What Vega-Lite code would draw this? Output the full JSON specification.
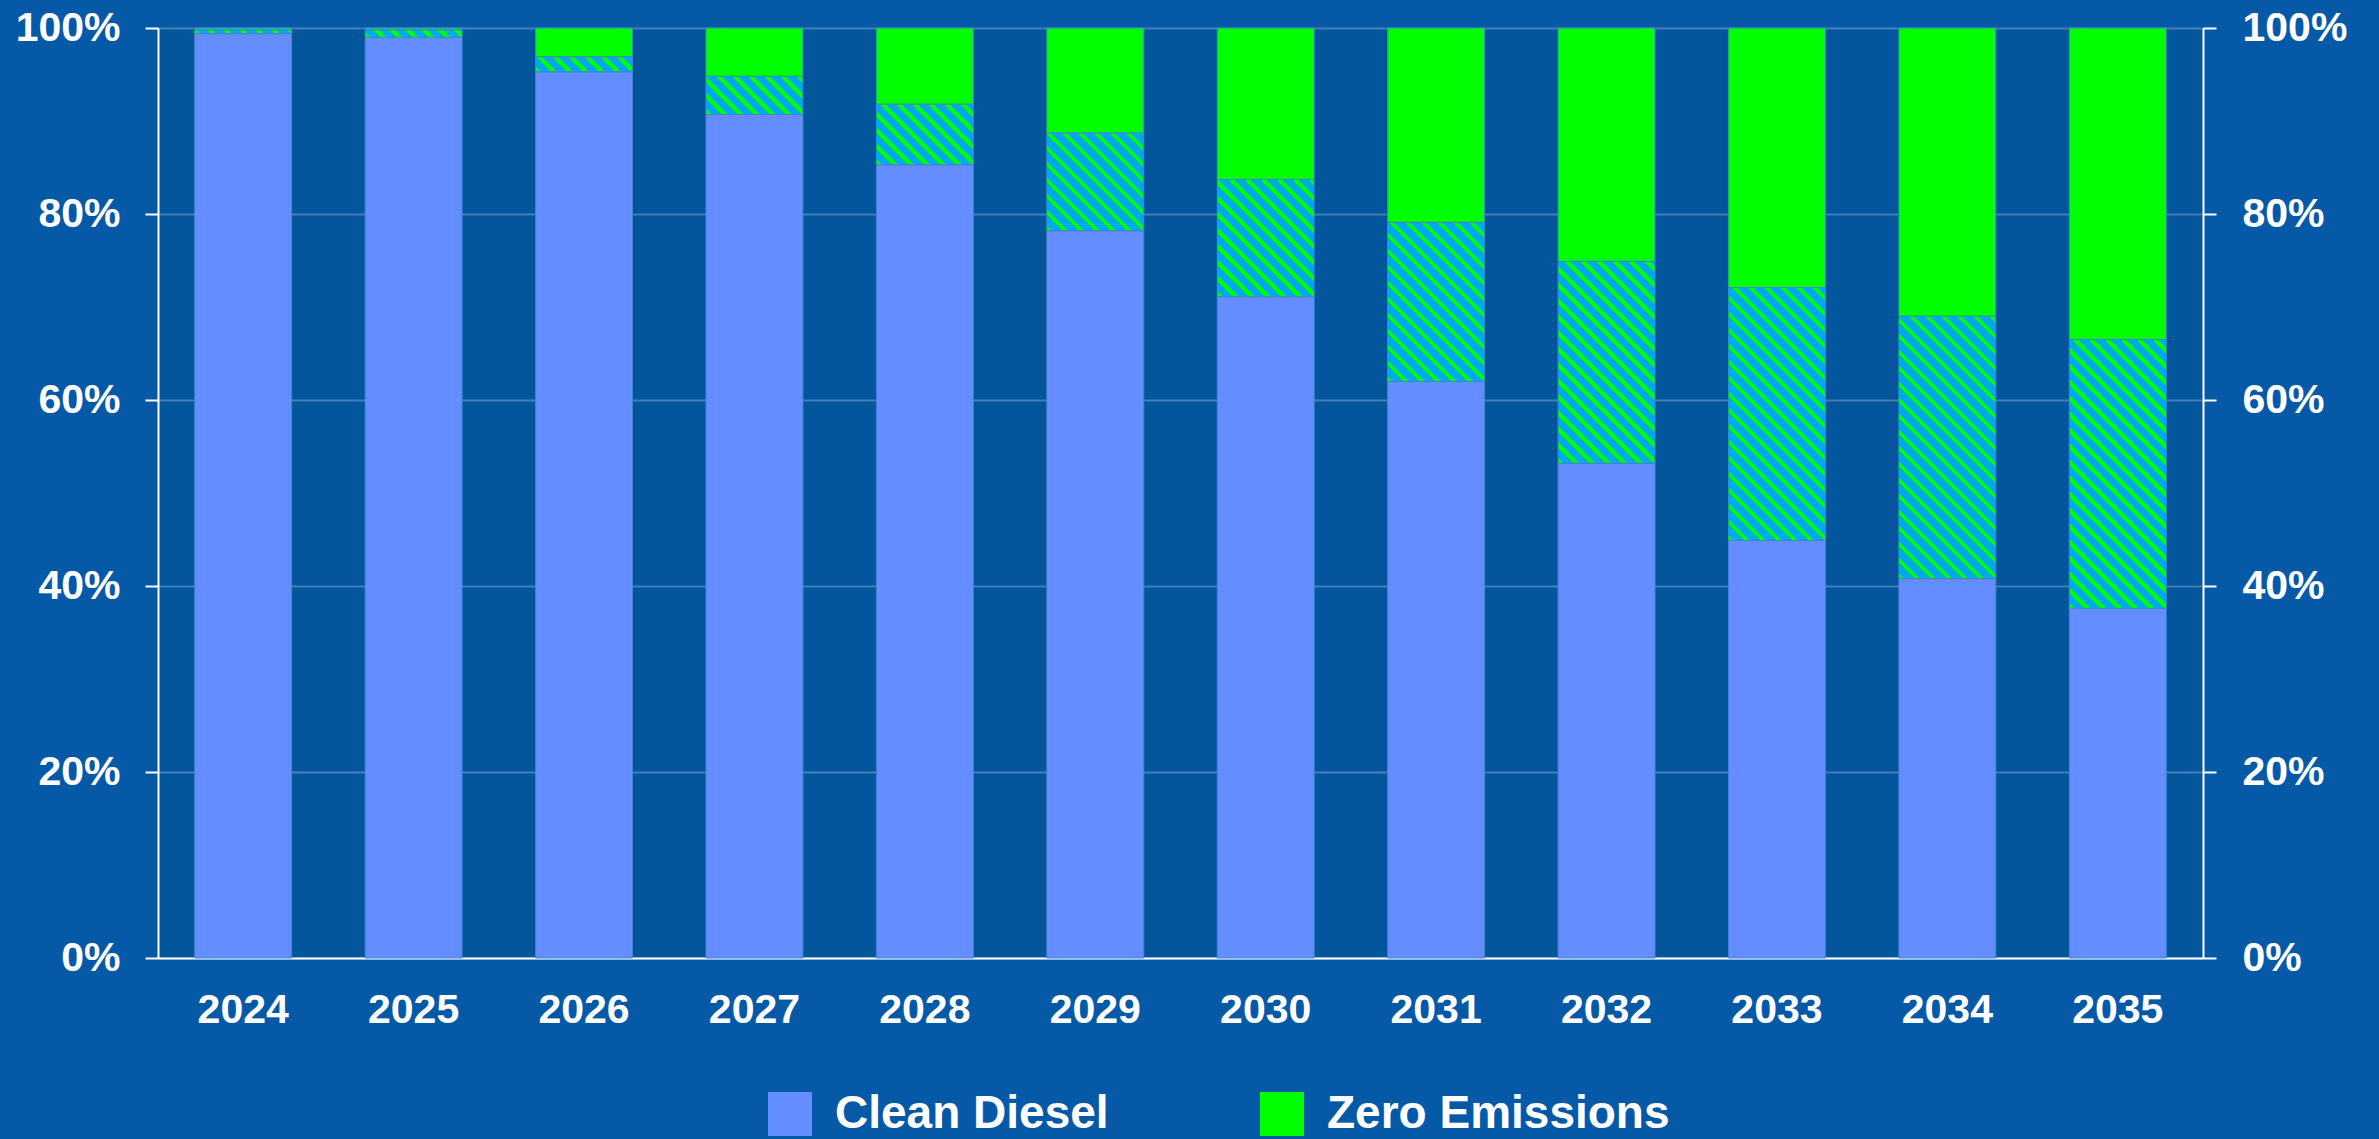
{
  "$schema": "https://vega.github.io/schema/vega-lite/v6.json",
  "width": 2045,
  "height": 930,
  "autosize": "none",
  "padding": {"left": 158, "top": 28, "right": 176, "bottom": 181},
  "background": "#0659a6",
  "config": {
    "view": {"fill": "#03559c", "stroke": null},
    "font": "Liberation Sans"
  },
  "params": [
    {"name": "hatchStops", "value": [
      {"offset": 0, "color": "#00ff00"}, {"offset": 0.014, "color": "#00ff00"}, {"offset": 0.014, "color": "#00a9ee"}, {"offset": 0.04, "color": "#00a9ee"},
      {"offset": 0.04, "color": "#00ff00"}, {"offset": 0.054, "color": "#00ff00"}, {"offset": 0.054, "color": "#00a9ee"}, {"offset": 0.08, "color": "#00a9ee"},
      {"offset": 0.08, "color": "#00ff00"}, {"offset": 0.094, "color": "#00ff00"}, {"offset": 0.094, "color": "#00a9ee"}, {"offset": 0.12, "color": "#00a9ee"},
      {"offset": 0.12, "color": "#00ff00"}, {"offset": 0.134, "color": "#00ff00"}, {"offset": 0.134, "color": "#00a9ee"}, {"offset": 0.16, "color": "#00a9ee"},
      {"offset": 0.16, "color": "#00ff00"}, {"offset": 0.174, "color": "#00ff00"}, {"offset": 0.174, "color": "#00a9ee"}, {"offset": 0.2, "color": "#00a9ee"},
      {"offset": 0.2, "color": "#00ff00"}, {"offset": 0.214, "color": "#00ff00"}, {"offset": 0.214, "color": "#00a9ee"}, {"offset": 0.24, "color": "#00a9ee"},
      {"offset": 0.24, "color": "#00ff00"}, {"offset": 0.254, "color": "#00ff00"}, {"offset": 0.254, "color": "#00a9ee"}, {"offset": 0.28, "color": "#00a9ee"},
      {"offset": 0.28, "color": "#00ff00"}, {"offset": 0.294, "color": "#00ff00"}, {"offset": 0.294, "color": "#00a9ee"}, {"offset": 0.32, "color": "#00a9ee"},
      {"offset": 0.32, "color": "#00ff00"}, {"offset": 0.334, "color": "#00ff00"}, {"offset": 0.334, "color": "#00a9ee"}, {"offset": 0.36, "color": "#00a9ee"},
      {"offset": 0.36, "color": "#00ff00"}, {"offset": 0.374, "color": "#00ff00"}, {"offset": 0.374, "color": "#00a9ee"}, {"offset": 0.4, "color": "#00a9ee"},
      {"offset": 0.4, "color": "#00ff00"}, {"offset": 0.414, "color": "#00ff00"}, {"offset": 0.414, "color": "#00a9ee"}, {"offset": 0.44, "color": "#00a9ee"},
      {"offset": 0.44, "color": "#00ff00"}, {"offset": 0.454, "color": "#00ff00"}, {"offset": 0.454, "color": "#00a9ee"}, {"offset": 0.48, "color": "#00a9ee"},
      {"offset": 0.48, "color": "#00ff00"}, {"offset": 0.494, "color": "#00ff00"}, {"offset": 0.494, "color": "#00a9ee"}, {"offset": 0.52, "color": "#00a9ee"},
      {"offset": 0.52, "color": "#00ff00"}, {"offset": 0.534, "color": "#00ff00"}, {"offset": 0.534, "color": "#00a9ee"}, {"offset": 0.56, "color": "#00a9ee"},
      {"offset": 0.56, "color": "#00ff00"}, {"offset": 0.574, "color": "#00ff00"}, {"offset": 0.574, "color": "#00a9ee"}, {"offset": 0.6, "color": "#00a9ee"},
      {"offset": 0.6, "color": "#00ff00"}, {"offset": 0.614, "color": "#00ff00"}, {"offset": 0.614, "color": "#00a9ee"}, {"offset": 0.64, "color": "#00a9ee"},
      {"offset": 0.64, "color": "#00ff00"}, {"offset": 0.654, "color": "#00ff00"}, {"offset": 0.654, "color": "#00a9ee"}, {"offset": 0.68, "color": "#00a9ee"},
      {"offset": 0.68, "color": "#00ff00"}, {"offset": 0.694, "color": "#00ff00"}, {"offset": 0.694, "color": "#00a9ee"}, {"offset": 0.72, "color": "#00a9ee"},
      {"offset": 0.72, "color": "#00ff00"}, {"offset": 0.734, "color": "#00ff00"}, {"offset": 0.734, "color": "#00a9ee"}, {"offset": 0.76, "color": "#00a9ee"},
      {"offset": 0.76, "color": "#00ff00"}, {"offset": 0.774, "color": "#00ff00"}, {"offset": 0.774, "color": "#00a9ee"}, {"offset": 0.8, "color": "#00a9ee"},
      {"offset": 0.8, "color": "#00ff00"}, {"offset": 0.814, "color": "#00ff00"}, {"offset": 0.814, "color": "#00a9ee"}, {"offset": 0.84, "color": "#00a9ee"},
      {"offset": 0.84, "color": "#00ff00"}, {"offset": 0.854, "color": "#00ff00"}, {"offset": 0.854, "color": "#00a9ee"}, {"offset": 0.88, "color": "#00a9ee"},
      {"offset": 0.88, "color": "#00ff00"}, {"offset": 0.894, "color": "#00ff00"}, {"offset": 0.894, "color": "#00a9ee"}, {"offset": 0.92, "color": "#00a9ee"},
      {"offset": 0.92, "color": "#00ff00"}, {"offset": 0.934, "color": "#00ff00"}, {"offset": 0.934, "color": "#00a9ee"}, {"offset": 0.96, "color": "#00a9ee"},
      {"offset": 0.96, "color": "#00ff00"}, {"offset": 0.974, "color": "#00ff00"}, {"offset": 0.974, "color": "#00a9ee"}, {"offset": 1, "color": "#00a9ee"}
    ]}
  ],
  "data": {"values": [
    {"year": "2024", "cat": "Clean Diesel", "share": 99.4}, {"year": "2024", "cat": "Mixed", "share": 0.4}, {"year": "2024", "cat": "Zero Emissions", "share": 0.2},
    {"year": "2025", "cat": "Clean Diesel", "share": 99.0}, {"year": "2025", "cat": "Mixed", "share": 0.8}, {"year": "2025", "cat": "Zero Emissions", "share": 0.2},
    {"year": "2026", "cat": "Clean Diesel", "share": 95.3}, {"year": "2026", "cat": "Mixed", "share": 1.6}, {"year": "2026", "cat": "Zero Emissions", "share": 3.1},
    {"year": "2027", "cat": "Clean Diesel", "share": 90.7}, {"year": "2027", "cat": "Mixed", "share": 4.1}, {"year": "2027", "cat": "Zero Emissions", "share": 5.2},
    {"year": "2028", "cat": "Clean Diesel", "share": 85.3}, {"year": "2028", "cat": "Mixed", "share": 6.5}, {"year": "2028", "cat": "Zero Emissions", "share": 8.2},
    {"year": "2029", "cat": "Clean Diesel", "share": 78.2}, {"year": "2029", "cat": "Mixed", "share": 10.5}, {"year": "2029", "cat": "Zero Emissions", "share": 11.3},
    {"year": "2030", "cat": "Clean Diesel", "share": 71.1}, {"year": "2030", "cat": "Mixed", "share": 12.6}, {"year": "2030", "cat": "Zero Emissions", "share": 16.3},
    {"year": "2031", "cat": "Clean Diesel", "share": 62.0}, {"year": "2031", "cat": "Mixed", "share": 17.1}, {"year": "2031", "cat": "Zero Emissions", "share": 20.9},
    {"year": "2032", "cat": "Clean Diesel", "share": 53.2}, {"year": "2032", "cat": "Mixed", "share": 21.7}, {"year": "2032", "cat": "Zero Emissions", "share": 25.1},
    {"year": "2033", "cat": "Clean Diesel", "share": 44.9}, {"year": "2033", "cat": "Mixed", "share": 27.2}, {"year": "2033", "cat": "Zero Emissions", "share": 27.9},
    {"year": "2034", "cat": "Clean Diesel", "share": 40.8}, {"year": "2034", "cat": "Mixed", "share": 28.2}, {"year": "2034", "cat": "Zero Emissions", "share": 31.0},
    {"year": "2035", "cat": "Clean Diesel", "share": 37.6}, {"year": "2035", "cat": "Mixed", "share": 28.9}, {"year": "2035", "cat": "Zero Emissions", "share": 33.5}
  ]},
  "transform": [
    {"stack": "share", "groupby": ["year"], "sort": [{"field": "cat", "order": "ascending"}], "as": ["lo", "hi"]}
  ],
  "encoding": {
    "x": {
      "field": "year", "type": "ordinal",
      "scale": {"paddingInner": 0.431, "paddingOuter": 0.2155},
      "axis": {
        "title": null, "labelAngle": 0, "ticks": false, "tickSize": 0,
        "labelFont": "Liberation Sans", "labelFontSize": 41, "labelFontWeight": "bold", "labelColor": "white",
        "labelPadding": 32, "domainColor": "white", "domainWidth": 2
      }
    }
  },
  "layer": [
    {
      "transform": [{"filter": "datum.cat !== 'Mixed'"}],
      "mark": {"type": "bar", "stroke": "#3f86d4", "strokeWidth": 1},
      "encoding": {
        "y": {
          "field": "lo", "type": "quantitative",
          "scale": {"domain": [0, 100], "nice": false},
          "axis": {
            "orient": "left", "title": null, "values": [0, 20, 40, 60, 80, 100], "labelExpr": "datum.value + '%'",
            "labelFont": "Liberation Sans", "labelFontSize": 41, "labelFontWeight": "bold", "labelColor": "white",
            "labelPadding": 25, "tickSize": 13, "tickWidth": 2, "tickColor": "white",
            "domainColor": "white", "domainWidth": 2,
            "grid": true, "gridColor": "#8fb2dc", "gridOpacity": 0.45, "gridWidth": 2
          }
        },
        "y2": {"field": "hi"},
        "color": {
          "field": "cat", "type": "nominal",
          "scale": {"domain": ["Clean Diesel", "Zero Emissions"], "range": ["#648dff", "#00ff00"]},
          "legend": {
            "title": null, "orient": "none", "direction": "horizontal", "legendX": 609, "legendY": 1063,
            "symbolType": "square", "symbolSize": 1936, "symbolStrokeWidth": 0, "symbolOpacity": 1,
            "labelFont": "Liberation Sans", "labelFontSize": 46, "labelFontWeight": "bold", "labelColor": "white",
            "labelOffset": 22, "columnPadding": 150, "labelLimit": 600, "padding": 0
          }
        }
      }
    },
    {
      "transform": [{"filter": "datum.cat === 'Mixed'"}],
      "mark": {
        "type": "bar", "stroke": "#3f86d4", "strokeWidth": 1,
        "fill": {"expr": "{gradient: 'linear', x1: 0, y1: 1, x2: 38800 / (9409 + pow((datum.hi - datum.lo) * 9.3, 2)), y2: 1 - 400 * (datum.hi - datum.lo) * 9.3 / (9409 + pow((datum.hi - datum.lo) * 9.3, 2)), stops: hatchStops}"}
      },
      "encoding": {
        "y": {
          "field": "lo", "type": "quantitative",
          "axis": {
            "orient": "right", "title": null, "values": [0, 20, 40, 60, 80, 100], "labelExpr": "datum.value + '%'",
            "labelFont": "Liberation Sans", "labelFontSize": 41, "labelFontWeight": "bold", "labelColor": "white",
            "labelPadding": 26, "tickSize": 13, "tickWidth": 2, "tickColor": "white",
            "domainColor": "white", "domainWidth": 2, "grid": false
          }
        },
        "y2": {"field": "hi"}
      }
    }
  ],
  "resolve": {"axis": {"y": "independent"}}
}
